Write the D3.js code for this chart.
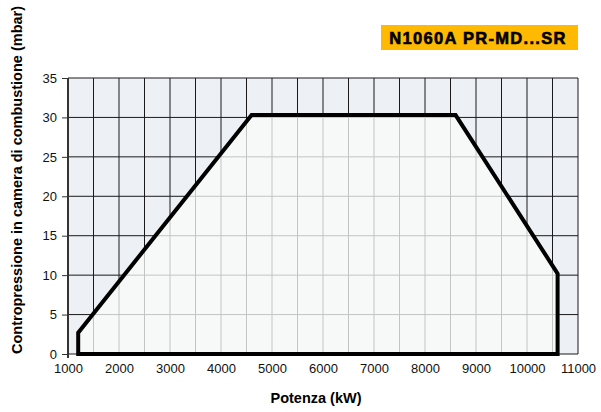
<!DOCTYPE html>
<html>
<head>
<meta charset="utf-8">
<script src="https://cdn.jsdelivr.net/npm/d3@7"></script>
<style>
body { margin: 0; background: #fff; }
text { font-family: "Liberation Sans", Arial, sans-serif; }
</style>
</head>
<body>
<svg id="chart" width="601" height="412"></svg>
<script>
// envelope of the burner working field
var envPower = [1200, 1200, 4600, 8600, 10600, 10600];
var envPress = [0, 2.7, 30.3, 30.3, 10.2, 0];
var xTicks = [1000, 2000, 3000, 4000, 5000, 6000, 7000, 8000, 9000, 10000, 11000];
var yTicks = [0, 5, 10, 15, 20, 25, 30, 35];
var title = "N1060A PR-MD...SR";

var svg = d3.select("#chart");
var x = d3.scaleLinear().domain([1000, 11000]).range([68, 578]);
var y = d3.scaleLinear().domain([0, 35]).range([354, 78]);

var pts = envPower.map(function (p, i) { return [x(p), y(envPress[i])]; });
var line = d3.line();

// plot background
svg.append("rect").attr("x", 68).attr("y", 78).attr("width", 510).attr("height", 276).attr("fill", "#edf0f4");

var xGrid = d3.range(1000, 11001, 500);

function drawGrid(g, col) {
    g.selectAll(".v").data(xGrid).enter().append("line")
        .attr("x1", function (d) { return x(d); }).attr("x2", function (d) { return x(d); })
        .attr("y1", 78).attr("y2", 354)
        .attr("stroke", col).attr("stroke-width", 1);
    g.selectAll(".h").data(yTicks).enter().append("line")
        .attr("x1", 68).attr("x2", 578)
        .attr("y1", function (d) { return y(d); }).attr("y2", function (d) { return y(d); })
        .attr("stroke", col).attr("stroke-width", 1);
}
drawGrid(svg.append("g"), "#1a1a1a");

// inside of envelope: lighter fill and grey grid
svg.append("clipPath").attr("id", "env").append("path").attr("d", line(pts) + "Z");
svg.append("path").attr("d", line(pts) + "Z").attr("fill", "#f7f8f8");
drawGrid(svg.append("g").attr("clip-path", "url(#env)"), "#c4c4c4");

// left axis line
svg.append("line").attr("x1", 68).attr("x2", 68).attr("y1", 78).attr("y2", 358)
    .attr("stroke", "#333").attr("stroke-width", 2);

// axes ticks and labels
var yAxis = d3.axisLeft(y).tickValues(yTicks).tickSize(6).tickPadding(5);
var gy = svg.append("g").attr("transform", "translate(68,0)").call(yAxis);
gy.select(".domain").remove();
gy.selectAll("line").attr("stroke", "#333");
gy.selectAll("text").attr("font-size", 13).attr("fill", "#111");

var xAxis = d3.axisBottom(x).tickValues(xTicks).tickFormat(d3.format("d")).tickSize(0).tickPadding(10);
var gx = svg.append("g").attr("transform", "translate(0,354)").call(xAxis);
gx.select(".domain").remove();
gx.selectAll("text").attr("font-size", 13).attr("fill", "#111");

// envelope outline
svg.append("path").attr("d", line(pts) + "Z")
    .attr("fill", "none").attr("stroke", "#000").attr("stroke-width", 4)
    .attr("stroke-linejoin", "miter");

// axis titles
svg.append("text").attr("x", 316).attr("y", 403).attr("text-anchor", "middle")
    .attr("font-size", 14.5).attr("font-weight", "bold").text("Potenza (kW)");
svg.append("text").attr("transform", "translate(22,180) rotate(-90)").attr("text-anchor", "middle")
    .attr("font-size", 14.5).attr("font-weight", "bold").text("Contropressione in camera di combustione (mbar)");

// model tag
svg.append("rect").attr("x", 381).attr("y", 25).attr("width", 197).attr("height", 25).attr("fill", "#ffb900");
svg.append("text").attr("x", 478).attr("y", 43.5).attr("text-anchor", "middle")
    .attr("font-size", 16.5).attr("font-weight", "bold").attr("letter-spacing", 1.3)
    .attr("stroke", "#000").attr("stroke-width", 0.6).text(title);
</script>
</body>
</html>
